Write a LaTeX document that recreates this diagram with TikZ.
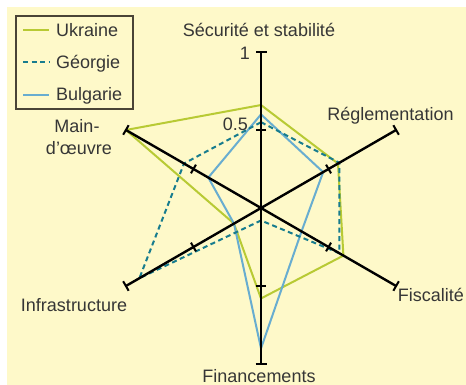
\documentclass[tikz,border=0pt]{standalone}
\usepackage{fontspec}
\setmainfont{Liberation Sans}
\usetikzlibrary{calc}
\definecolor{bgcream}{HTML}{FEF9C9}
\definecolor{ukr}{HTML}{B8CA34}
\definecolor{geo}{HTML}{177C8E}
\definecolor{bul}{HTML}{68ADD0}
\definecolor{txtgray}{HTML}{363636}
\definecolor{boxgray}{HTML}{4A4436}
\tikzset{
  lbl/.style={text=txtgray,font=\fontsize{18}{21}\selectfont,inner sep=0pt,anchor=base},
  axisline/.style={black,line width=2.4pt},
  tickbar/.style={black,line width=2pt},
  ukrline/.style={ukr,line width=2pt,line join=round},
  geoline/.style={geo,line width=2pt,dash pattern=on 5pt off 3.5pt,line join=round},
  bulline/.style={bul,line width=2pt,line join=round},
}
\begin{document}
\begin{tikzpicture}[x=1pt,y=1pt]
\useasboundingbox (0,0) rectangle (466,385);
\fill[bgcream] (7,0) rectangle (466,378);
\coordinate (O) at (261,177);
% axis end points
\foreach \n/\a in {S/90,R/30,F/-30,N/-90,I/210,M/150}{
  \coordinate (\n1) at ($(O)+(\a:156)$);
}
% data polygons
\draw[ukrline] ($(O)+(90:0.66*156)$) -- ($(O)+(30:0.57*156)$) -- ($(O)+(-30:0.61*156)$) -- ($(O)+(-90:0.58*156)$) -- ($(O)+(210:0.20*156)$) -- ($(O)+(150:1.0*156)$) -- cycle;
\draw[bulline] ($(O)+(90:0.60*156)$) -- ($(O)+(30:0.46*156)$) -- ($(O)+(-30:0.30*156)$) -- ($(O)+(-90:0.90*156)$) -- ($(O)+(210:0.20*156)$) -- ($(O)+(150:0.39*156)$) -- cycle;
\draw[geoline] ($(O)+(90:0.55*156)$) -- ($(O)+(30:0.58*156)$) -- ($(O)+(-30:0.58*156)$) -- ($(O)+(-90:0.08*156)$) -- ($(O)+(210:0.90*156)$) -- ($(O)+(150:0.57*156)$) -- cycle;
% axes with ticks
\foreach \a in {90,30,-30,-90,210,150}{
  \begin{scope}[shift={(O)},rotate=\a]
    \draw[axisline] (0,0) -- (156,0);
    \draw[tickbar] (78,-5) -- (78,5);
    \draw[tickbar] (156,-5.5) -- (156,5.5);
  \end{scope}
}
% scale labels
\node[lbl,anchor=east] (one) at (250,332) {1};
\node[lbl,anchor=east] (half) at (248,261) {0.5};
% axis labels
\node[lbl] (ls) at (259,348) {Sécurité et stabilité};
\node[lbl] (lr) at (390.5,264) {Réglementation};
\node[lbl] (lf) at (431,83) {Fiscalité};
\node[lbl] (ln) at (259,2) {Financements};
\node[lbl] (li) at (74,73) {Infrastructure};
\node[lbl] (lm1) at (77,252) {Main-};
\node[lbl] (lm2) at (79,230) {d’œuvre};
% legend
\draw[boxgray,line width=1.3pt] (16,369) rectangle (133,276);
\coordinate (k1a) at (23,355); \coordinate (k1b) at (49,355);
\coordinate (k2a) at (23,323); \coordinate (k2b) at (49,323);
\coordinate (k3a) at (23,290); \coordinate (k3b) at (49,290);
\draw[ukrline] (k1a) -- (k1b);
\draw[geoline] (k2a) -- (k2b);
\draw[bulline] (k3a) -- (k3b);
\node[lbl,anchor=base west] (t1) at (56,348) {Ukraine};
\node[lbl,anchor=base west] (t2) at (56,316) {Géorgie};
\node[lbl,anchor=base west] (t3) at (56,284) {Bulgarie};
\end{tikzpicture}
\end{document}
